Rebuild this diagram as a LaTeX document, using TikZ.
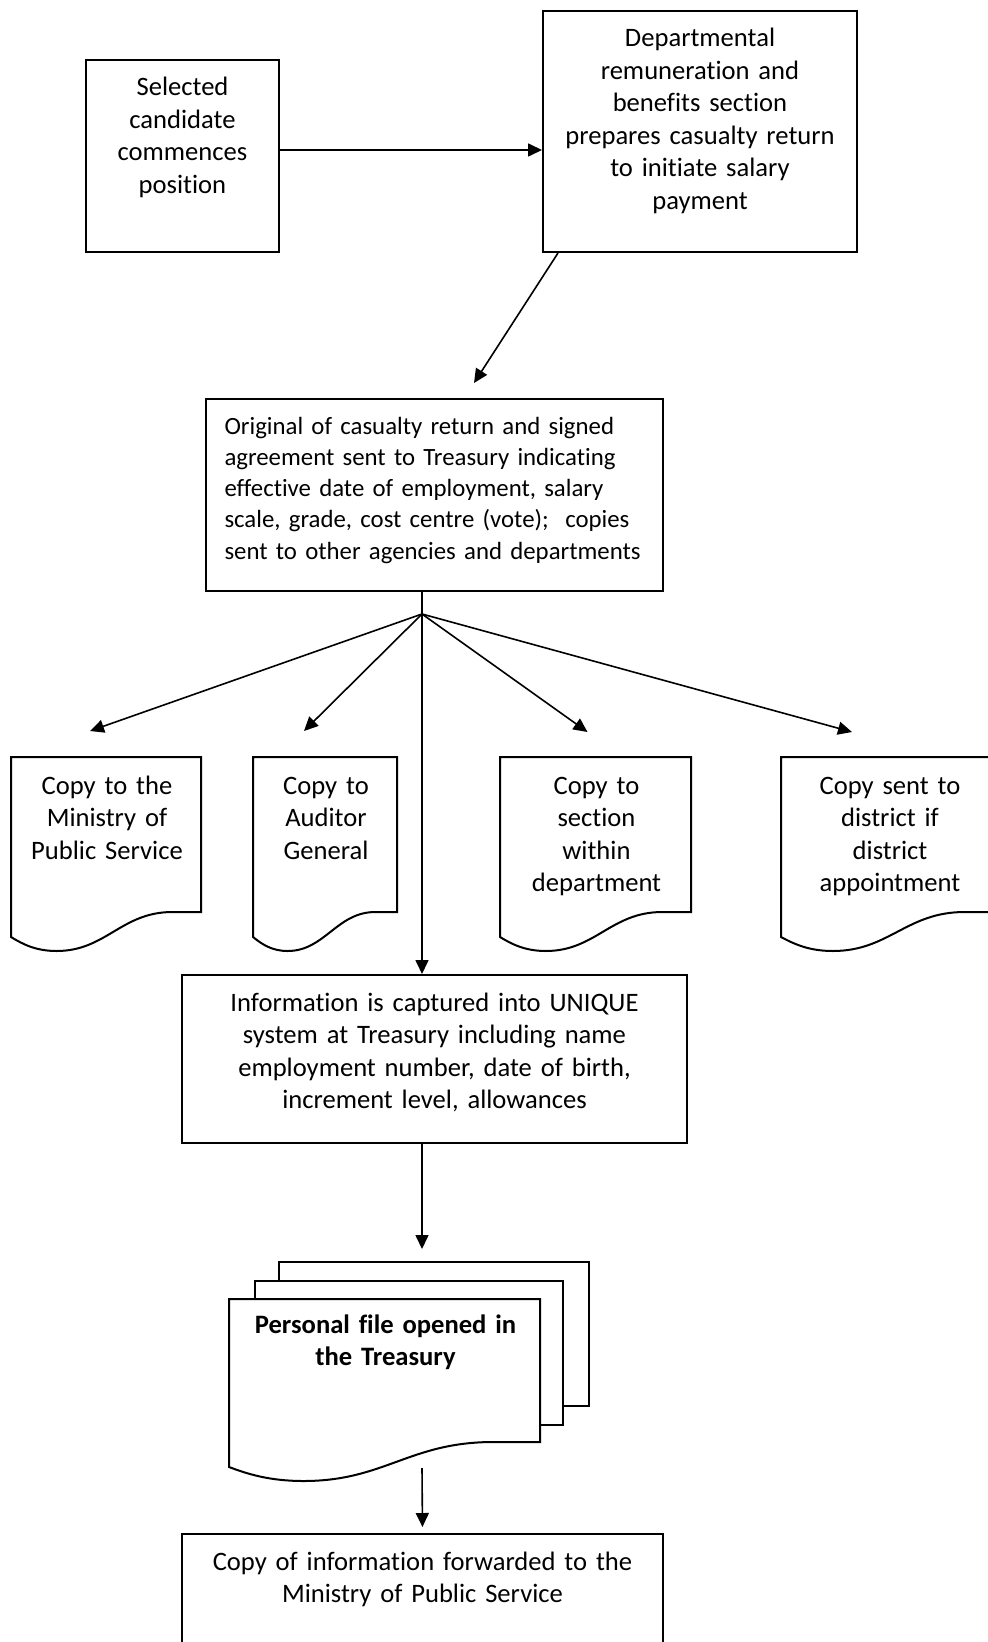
\documentclass[tikz,border=0pt]{standalone}
\usepackage{fontspec}
\setmainfont{Carlito}[Ligatures=CommonOff]
\usetikzlibrary{arrows.meta,calc}

% outline of a document sheet: node name, width, height of right edge
\newcommand{\paperedge}[3]{%
  \draw[line width=1pt, shift={(#1.north west)}] (0,0) -- (#2,0) -- (#2,#3) -- ({0.85*#2},#3)
     .. controls ({0.58*#2},#3) and ({0.5*#2},#3+39) .. ({0.24*#2},#3+39)
     .. controls ({0.13*#2},#3+39) and ({0.06*#2},#3+32) .. (0,#3+25) -- cycle;}

\begin{document}
\begin{tikzpicture}[x=0.5pt, y=-0.5pt,
    process/.style={rectangle, draw, line width=1pt, anchor=north, inner xsep=5pt,
      inner ysep=8pt, text height=10pt, align=center,
      font=\fontsize{13.3}{16.25}\selectfont},
    copydoc/.style={process, draw=none},
    flow/.style={line width=0.8pt, -{Triangle[length=7pt,width=6.5pt]}}]
   \useasboundingbox (0,0) rectangle (988,1642);

   \node[process, text width=86.5pt, text depth=70pt] (A) at (182.5,59)
      {Selected\\candidate\\commences\\position};
   \node[process, text width=147pt, text depth=94.5pt] (B) at (700,10)
      {Departmental\\remuneration and\\benefits section\\prepares casualty return\\to initiate salary\\payment};
   \node[process, align=left, font=\fontsize{12.4}{15.65}\selectfont, inner xsep=9.25pt,
      text width=210pt, text height=9.5pt, text depth=70.5pt] (C) at (434.5,398)
      {Original of casualty return and signed\\agreement sent to Treasury indicating\\effective date of employment, salary\\scale, grade, cost centre (vote);~ copies\\sent to other agencies and departments};
   \coordinate (fork) at (422,614);

   % copies
   \node[copydoc, text width=85pt, text depth=51.5pt] (D1) at (107,757) {Copy to the\\Ministry of\\Public Service};
   \node[copydoc, text width=62pt, text depth=51.5pt] (D2) at (326,757) {Copy to\\Auditor\\General};
   \node[copydoc, text width=85.5pt, text depth=51.5pt] (D3) at (596.5,757) {Copy to\\section\\within\\department};
   \node[copydoc, text width=98pt, text depth=51.5pt] (D4) at (890,757) {Copy sent to\\district if\\district\\appointment};
   \paperedge{D1}{190}{155}
   \paperedge{D2}{144}{155}
   \paperedge{D3}{191}{155}
   \paperedge{D4}{216}{155}

   \node[process, text width=242.5pt, text depth=58pt] (E) at (434.5,974)
      {Information is captured into UNIQUE\\system at Treasury including name\\employment number, date of birth,\\increment level, allowances};

   % personal file (stack of sheets)
   \node[copydoc, inner ysep=6.5pt, text width=145.5pt, text depth=48.5pt,
      font=\fontsize{13.3}{16.25}\selectfont\bfseries] (F) at (385.5,1299)
      {Personal file opened in\\the Treasury};
   \draw[line width=1pt, shift={(F.north west)}] (50,-18) -- (50,-37) -- (360,-37) -- (360,107) -- (334,107);
   \draw[line width=1pt, shift={(F.north west)}] (26,0) -- (26,-18) -- (334,-18) -- (334,126) -- (311,126);
   \paperedge{F}{311}{143}

   \node[process, text width=230.5pt, text depth=39pt] (G) at (422.5,1533)
      {Copy of information forwarded to the\\Ministry of Public Service};

   \draw[flow] ([yshift=3pt]A.east) -- ([yshift=3pt]A.east -| B.west);
   \draw[flow] ([xshift=8pt]B.south west) -- ($(C.north)+(39.5,-15)$);
   \draw[line width=0.8pt] (C.south -| fork) -- (fork);
   \draw[flow] (fork) -- (fork |- E.north);
   \draw[flow] (fork) -- ($(D1.north)+(-17,-26)$);
   \draw[flow] (fork) -- ($(D2.north)+(-22,-26)$);
   \draw[flow] (fork) -- ($(D3.north)+(-9,-25)$);
   \draw[flow] (fork) -- ($(D4.north)+(-38,-25)$);
   \draw[flow] (E.south -| fork) -- ($(F.north -| fork)+(0,-50)$);
   \draw[flow, shorten >=3pt] ($(F.south -| fork)+(0,24)$) -- (G.north);
\end{tikzpicture}
\end{document}
